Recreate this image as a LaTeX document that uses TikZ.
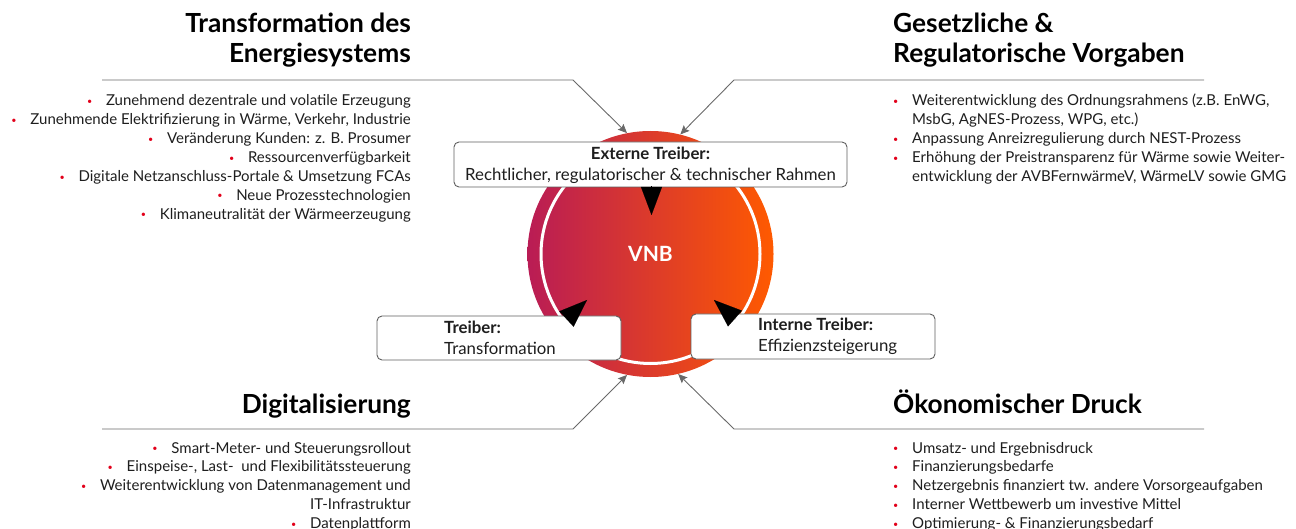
\documentclass[tikz,border=0pt]{standalone}
\usepackage{fontspec}
\setmainfont{Lato}
\usetikzlibrary{arrows.meta}
\definecolor{bred}{RGB}{226,0,26}
\definecolor{cl}{RGB}{185,28,85}
\definecolor{cm}{RGB}{226,0,24}
\definecolor{cr}{RGB}{255,90,0}
\definecolor{lgray}{RGB}{105,105,105}
\definecolor{bgray}{RGB}{95,95,95}
\definecolor{txt}{RGB}{30,30,30}
\newcommand\bul{\makebox[17pt][l]{\hspace{-2pt}\raisebox{1.5pt}{\textcolor{bred}{\fontsize{9}{9}\selectfont •}}}}
\newcommand\ind{\makebox[17pt]{}}
\tikzset{
  body/.style={font=\fontsize{15}{18.9}\selectfont, inner sep=0pt, text=txt},
  head/.style={font=\fontsize{26.3}{30}\selectfont\bfseries, inner sep=0pt, text=black},
  boxtxt/.style={font=\fontsize{16.8}{21}\selectfont, inner sep=0pt, text=txt},
  sepline/.style={draw=lgray, line width=0.9pt},
  ptr/.style={sepline, -{Stealth[length=9pt,width=8pt,inset=1.5pt]}},
  rbox/.style={draw=bgray, fill=white, rounded corners=5pt, line width=0.9pt},
  bigtip/.style={draw=black, line width=0.1pt, -{Triangle[length=28pt,width=21pt]}}
}
\begin{document}
\begin{tikzpicture}[x=1pt,y=-1pt]
\useasboundingbox (0,0) rectangle (1296,529);
\clip (0,0) rectangle (1296,529);
% central circle
\node[circle, minimum size=246pt, inner sep=0pt, left color=cl, middle color=cm, right color=cr] (vnb) at (650.5,254) {};
\draw[white, line width=3pt] (vnb.center) circle [radius=109.5pt];
\node[font=\fontsize{21}{21}\selectfont\bfseries, text=white] (vnbt) at (vnb.center) {VNB};
% headings
\node[head, anchor=base east] (h1a) at (411,33) {Transformation des};
\node[head, anchor=base east] (h1b) at (411,63) {Energiesystems};
\node[head, anchor=base west] (h2a) at (893,33) {Gesetzliche \&};
\node[head, anchor=base west] (h2b) at (893,63) {Regulatorische Vorgaben};
\node[head, anchor=base east] (h3) at (411,413) {Digitalisierung};
\node[head, anchor=base west] (h4) at (893,413) {Ökonomischer Druck};
% separator lines with pointers
\coordinate (c1a) at (102,80); \coordinate (c1b) at (573,80);
\coordinate (c2a) at (1204,80); \coordinate (c2b) at (734,80);
\coordinate (c3a) at (102,429); \coordinate (c3b) at (573,429);
\coordinate (c4a) at (1204,429); \coordinate (c4b) at (734,429);
\draw[ptr] (c1a) -- (c1b) -- (vnb.101);
\draw[ptr] (c2a) -- (c2b) -- (vnb.76);
\draw[ptr] (c3a) -- (c3b) -- (vnb.259);
\draw[ptr] (c4a) -- (c4b) -- (vnb.283);
% lists
\foreach \t [count=\i] in {Zunehmend dezentrale und volatile Erzeugung,
  {Zunehmende Elektrifizierung in Wärme, Verkehr, Industrie},
  {Veränderung Kunden: z. B. Prosumer},
  Ressourcenverfügbarkeit,
  Digitale Netzanschluss-Portale \& Umsetzung FCAs,
  Neue Prozesstechnologien,
  Klimaneutralität der Wärmeerzeugung}
  \node[body, anchor=base east] (la\i) at (411,{87.1+18.9*\i}) {\bul\t};
\foreach \t [count=\i] in {{\bul Weiterentwicklung des Ordnungsrahmens (z.B. EnWG,},
  {\ind MsbG, AgNES-Prozess, WPG, etc.)},
  {\bul Anpassung Anreizregulierung durch NEST-Prozess},
  {\bul Erhöhung der Preistransparenz für Wärme sowie Weiter-},
  {\ind entwicklung der AVBFernwärmeV, WärmeLV sowie GMG}}
  \node[body, anchor=base west] (lb\i) at (895,{87.1+18.9*\i}) {\t};
\foreach \t [count=\i] in {{\bul Smart-Meter- und Steuerungsrollout},
  {\bul Einspeise-, Last-\ \ und Flexibilitätssteuerung},
  {\bul Weiterentwicklung von Datenmanagement und},
  {IT-Infrastruktur},
  {\bul Datenplattform}}
  \node[body, anchor=base east] (lc\i) at (411,{434.1+18.9*\i}) {\t};
\foreach \t [count=\i] in {Umsatz- und Ergebnisdruck,
  Finanzierungsbedarfe,
  Netzergebnis finanziert tw. andere Vorsorgeaufgaben,
  Interner Wettbewerb um investive Mittel,
  Optimierung- \& Finanzierungsbedarf}
  \node[body, anchor=base west] (ld\i) at (895,{434.1+18.9*\i}) {\bul\t};
% boxes
\node[rbox, minimum width=393pt, minimum height=45pt] (ext) at (650.5,164.5) {};
\node[boxtxt, align=center] (extt) at ([yshift=-1pt]ext.center) {\textbf{Externe Treiber:}\\Rechtlicher, regulatorischer \& technischer Rahmen};
\node[rbox, minimum width=244pt, minimum height=44pt] (trb) at (499,338) {};
\node[boxtxt, align=left, anchor=west] (trbt) at (444,338) {\textbf{Treiber:}\\Transformation};
\node[rbox, minimum width=244pt, minimum height=45pt] (int) at (813,336.5) {};
\node[boxtxt, align=left, anchor=west] (intt) at (758,336.5) {\textbf{Interne Treiber:}\\Effizienzsteigerung};
% big tips
\coordinate (t1s) at (651.5,186.5); \coordinate (t1e) at (651.5,215);
\coordinate (t2s) at (567,318.5); \coordinate (t2e) at (587,300);
\coordinate (t3s) at (735.5,319); \coordinate (t3e) at (714,300);
\draw[bigtip] (t1s) -- (t1e);
\draw[bigtip] (t2s) -- (t2e);
\draw[bigtip] (t3s) -- (t3e);
\end{tikzpicture}
\end{document}
